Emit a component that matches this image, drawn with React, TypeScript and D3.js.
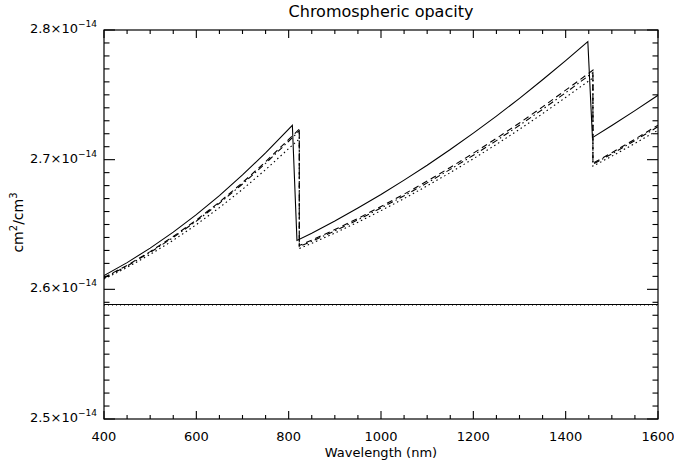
import React from "react";
import * as d3 from "d3";

// Wavelengths (nm) and opacity values (units of 1e-14 cm^2/cm^3)
const solidX = [400, 450, 500, 550, 600, 650, 700, 750, 808, 818, 850, 900, 950, 1000, 1050, 1100, 1150, 1200, 1250, 1300, 1350, 1400, 1448, 1458, 1500, 1550, 1600];
const solidY = [2.6106, 2.6206, 2.6318, 2.6441, 2.6576, 2.6723, 2.6882, 2.7052, 2.7265, 2.6377, 2.6433, 2.6527, 2.6627, 2.6731, 2.6842, 2.6957, 2.7078, 2.7205, 2.7336, 2.7473, 2.7616, 2.7764, 2.7911, 2.7170, 2.7264, 2.7378, 2.7497];

const brokenX = [400, 450, 500, 550, 600, 650, 700, 750, 800, 823, 823, 850, 900, 950, 1000, 1050, 1100, 1150, 1200, 1250, 1300, 1350, 1400, 1459, 1459, 1500, 1550, 1600];
const dashedY = [2.6091, 2.6185, 2.6291, 2.6407, 2.6534, 2.6673, 2.6823, 2.6984, 2.7156, 2.7235, 2.6338, 2.6379, 2.6461, 2.6547, 2.6639, 2.6734, 2.6835, 2.6940, 2.7050, 2.7164, 2.7283, 2.7407, 2.7536, 2.7690, 2.6972, 2.7054, 2.7158, 2.7266];
const dashDotY = [2.6088, 2.6180, 2.6285, 2.6400, 2.6526, 2.6664, 2.6812, 2.6972, 2.7142, 2.7222, 2.6330, 2.6370, 2.6451, 2.6536, 2.6627, 2.6721, 2.6821, 2.6925, 2.7034, 2.7147, 2.7265, 2.7388, 2.7516, 2.7672, 2.6965, 2.7045, 2.7148, 2.7254];
const dottedY = [2.6080, 2.6169, 2.6269, 2.6378, 2.6499, 2.6630, 2.6771, 2.6923, 2.7085, 2.7160, 2.6315, 2.6355, 2.6434, 2.6518, 2.6607, 2.6700, 2.6798, 2.6900, 2.7007, 2.7118, 2.7234, 2.7355, 2.7480, 2.7630, 2.6950, 2.7027, 2.7125, 2.7227];

const flatX = [400, 1600];
const flatSolidY = [2.5883, 2.5883];
const flatDottedY = [2.5880, 2.5880];

const xTicks = [400, 600, 800, 1000, 1200, 1400, 1600];
const yTicks = [2.5, 2.6, 2.7, 2.8];

const W = 674, H = 461;
const L = 104, R = 658, T = 30, B = 419;

export default function App() {
  const x = d3.scaleLinear().domain([400, 1600]).range([L, R]);
  const y = d3.scaleLinear().domain([2.5, 2.8]).range([B, T]);
  const line = d3.line<[number, number]>().x(d => x(d[0])).y(d => y(d[1]));
  const mk = (xs: number[], ys: number[]) => line(xs.map((v, i) => [v, ys[i]] as [number, number])) || "";

  const xMinor = d3.range(400, 1600.1, 50);
  const yMinor = d3.range(0, 31).map(i => 2.5 + i * 0.01);
  const font = "'DejaVu Sans', sans-serif";
  const clip = "plotclip";

  return (
    <svg width={W} height={H} style={{ position: "absolute", left: 0, top: 0, background: "#fff" }} fontFamily={font}>
      <defs>
        <clipPath id={clip}><rect x={L} y={T} width={R - L} height={B - T} /></clipPath>
      </defs>
      <rect x={0} y={0} width={W} height={H} fill="#fff" />
      <g clipPath={`url(#${clip})`} fill="none" stroke="#000" strokeWidth={1.1}>
        <path d={mk(flatX, flatSolidY)} />
        <path d={mk(flatX, flatDottedY)} strokeDasharray="1,3" />
        <path d={mk(solidX, solidY)} />
        <path d={mk(brokenX, dashedY)} strokeDasharray="6,4" />
        <path d={mk(brokenX, dashDotY)} strokeDasharray="6,3,1.5,3" />
        <path d={mk(brokenX, dottedY)} strokeDasharray="1.5,3" />
      </g>
      {/* frame */}
      <rect x={L} y={T} width={R - L} height={B - T} fill="none" stroke="#000" strokeWidth={1.2} />
      {/* ticks */}
      <g stroke="#000" strokeWidth={1.1}>
        {xMinor.map(v => {
          const major = xTicks.some(t => Math.abs(t - v) < 1e-6);
          const len = major ? 8 : 4;
          return (
            <g key={"x" + v}>
              <line x1={x(v)} x2={x(v)} y1={B} y2={B - len} />
              <line x1={x(v)} x2={x(v)} y1={T} y2={T + len} />
            </g>
          );
        })}
        {yMinor.map((v, i) => {
          const major = i % 10 === 0;
          const len = major ? 11 : 5.5;
          return (
            <g key={"y" + i}>
              <line x1={L} x2={L + len} y1={y(v)} y2={y(v)} />
              <line x1={R} x2={R - len} y1={y(v)} y2={y(v)} />
            </g>
          );
        })}
      </g>
      {xTicks.map(t => (
        <text key={"xl" + t} x={x(t)} y={B + 22} fontSize={13} textAnchor="middle">{t}</text>
      ))}
      {yTicks.map(t => (
        <text key={"yl" + t} x={L - 7} y={y(t) + 3} fontSize={13} textAnchor="end">
          {t.toFixed(1)}×10<tspan fontSize={9} dy={-6}>−14</tspan>
        </text>
      ))}
      <text x={(L + R) / 2} y={17} fontSize={16} textAnchor="middle">Chromospheric opacity</text>
      <text x={(L + R) / 2} y={457} fontSize={13} textAnchor="middle">Wavelength (nm)</text>
      <text transform={`translate(23,${(T + B) / 2 - 2}) rotate(-90)`} fontSize={14} textAnchor="middle">
        cm<tspan fontSize={10} dy={-6}>2</tspan><tspan dy={6}>/cm</tspan><tspan fontSize={10} dy={-6}>3</tspan>
      </text>
    </svg>
  );
}
